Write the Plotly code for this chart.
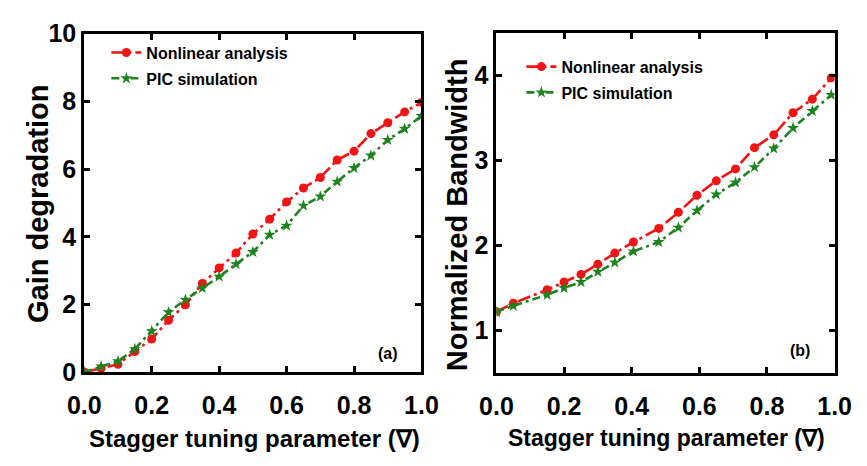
import plotly.graph_objects as go

# Panel (a): gain degradation vs stagger tuning parameter
stagger_a = [0.0, 0.05, 0.10, 0.15, 0.20, 0.25, 0.30, 0.35, 0.40, 0.45, 0.50,
             0.55, 0.60, 0.65, 0.70, 0.75, 0.80, 0.85, 0.90, 0.95, 1.00]
gain_nonlinear = [0.0, 0.11, 0.23, 0.61, 0.98, 1.53, 1.99, 2.62, 3.08, 3.52, 4.08,
                  4.52, 5.03, 5.44, 5.75, 6.27, 6.53, 7.05, 7.37, 7.69, 7.97]
gain_pic = [0.0, 0.17, 0.32, 0.68, 1.21, 1.77, 2.14, 2.48, 2.82, 3.19, 3.55,
            4.06, 4.33, 4.92, 5.19, 5.63, 6.03, 6.40, 6.86, 7.19, 7.57]

# Panel (b): normalized bandwidth vs stagger tuning parameter
stagger_b = [0.0, 0.05, 0.15, 0.20, 0.25, 0.30, 0.35, 0.405, 0.48, 0.538, 0.593,
             0.65, 0.707, 0.763, 0.82, 0.877, 0.934, 0.99]
bw_nonlinear = [1.22, 1.32, 1.48, 1.57, 1.66, 1.78, 1.91, 2.04, 2.20, 2.39, 2.59,
                2.76, 2.90, 3.15, 3.30, 3.56, 3.72, 3.97]
bw_pic = [1.22, 1.29, 1.42, 1.50, 1.57, 1.69, 1.80, 1.93, 2.04, 2.21, 2.41,
          2.60, 2.74, 2.92, 3.14, 3.38, 3.58, 3.77]

x_ticks = [0.0, 0.2, 0.4, 0.6, 0.8, 1.0]
x_ticklabels = ["0.0", "0.2", "0.4", "0.6", "0.8", "1.0"]
ya_ticks = [0, 2, 4, 6, 8, 10]
yb_ticks = [1, 2, 3, 4]

RED = "#f01414"
GREEN = "#1e821e"
FONT = "Liberation Sans, Arial, sans-serif"
W, H = 867, 466

fig = go.Figure()

def add_pair(x, y_nl, y_pic, xa, ya, legend):
    fig.add_trace(go.Scatter(
        x=x, y=y_nl, xaxis=xa, yaxis=ya, legend=legend, legendgroup="nl",
        name="Nonlinear analysis", mode="lines+markers",
        line=dict(color=RED, width=2.6, dash="13px,4px,3px,4px"),
        marker=dict(symbol="circle", size=9, color=RED)))
    fig.add_trace(go.Scatter(
        x=x, y=y_pic, xaxis=xa, yaxis=ya, legend=legend, legendgroup="pic",
        name="PIC simulation", mode="lines+markers",
        line=dict(color=GREEN, width=2.6, dash="8px,4px,3px,4px"),
        marker=dict(symbol="star", size=9, color=GREEN)))

add_pair(stagger_a, gain_nonlinear, gain_pic, "x", "y", "legend")
add_pair(stagger_b, bw_nonlinear, bw_pic, "x2", "y2", "legend2")

axis_common = dict(
    showline=True, linecolor="black", linewidth=3, mirror="allticks",
    ticks="inside", ticklen=6, tickwidth=2.5, tickcolor="black",
    showgrid=False, zeroline=False,
    tickfont=dict(family=FONT, size=25, color="black", weight="bold"),
)

legend_common = dict(
    xanchor="left", yanchor="top", bgcolor="rgba(0,0,0,0)",
    traceorder="grouped", tracegroupgap=2, itemwidth=30,
    font=dict(family=FONT, size=16, color="black", weight="bold"),
)

fig.update_layout(
    width=W, height=H,
    margin=dict(l=0, r=0, t=0, b=0),
    paper_bgcolor="white", plot_bgcolor="white",
    xaxis=dict(domain=[70 / W, 421 / W], range=[0, 1], anchor="y",
               tickvals=x_ticks, ticktext=x_ticklabels,
               ticklabelstandoff=9, **axis_common),
    yaxis=dict(domain=[1 - 381 / H, 1 - 21 / H], range=[0, 10], anchor="x",
               tickvals=ya_ticks, **axis_common),
    xaxis2=dict(domain=[499 / W, 851 / W], range=[0, 1], anchor="y2",
                tickvals=x_ticks, ticktext=x_ticklabels,
                ticklabelstandoff=9, **axis_common),
    yaxis2=dict(domain=[1 - 382 / H, 1 - 20 / H], range=[0.5, 4.5], anchor="x2",
                tickvals=yb_ticks, **axis_common),
    legend=dict(x=93 / W, y=1 - 23 / H, **legend_common),
    legend2=dict(x=525 / W, y=1 - 38 / H, **legend_common),
)

title_font = dict(family=FONT, color="black", weight="bold")
annotations = [
    dict(text="Gain degradation", x=22 / W, y=1 - 202 / H, textangle=-90,
         font=dict(size=29, **title_font)),
    dict(text="Normalized Bandwidth", x=458 / W, y=1 - 214 / H, textangle=-90,
         font=dict(size=29, **title_font)),
    dict(text="Stagger tuning parameter (∇)", x=247 / W, y=1 - 452 / H,
         font=dict(size=24, **title_font)),
    dict(text="Stagger tuning parameter (∇)", x=676 / W, y=1 - 451 / H,
         font=dict(size=23, **title_font)),
    dict(text="(a)", x=386 / W, y=1 - 361 / H, font=dict(size=16, **title_font)),
    dict(text="(b)", x=815 / W, y=1 - 358 / H, font=dict(size=16, **title_font)),
]
for a in annotations:
    a.update(xref="paper", yref="paper", xanchor="center", yanchor="middle",
             showarrow=False)
fig.update_layout(annotations=annotations)

fig.write_html("out.html")
